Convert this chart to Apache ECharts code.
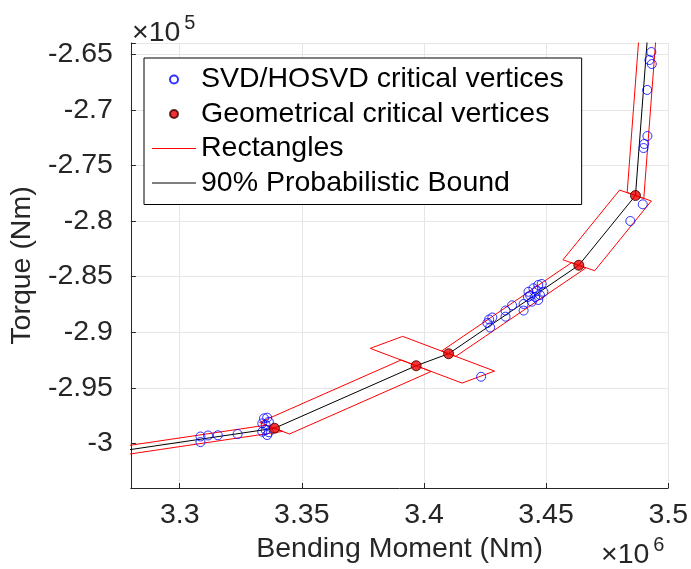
<!DOCTYPE html>
<html>
<head>
<meta charset="utf-8">
<script src="https://cdn.jsdelivr.net/npm/echarts@6/dist/echarts.min.js"></script>
<style>
  html, body { margin: 0; padding: 0; background: #fff; }
  #chart { width: 691px; height: 569px; }
</style>
</head>
<body>
<div id="chart"></div>
<script>
// Bending moment in units of 1e6 Nm, torque in units of 1e5 Nm.

// Critical vertices found by the SVD/HOSVD search
const svdVertices = [
  [3.3085, -2.9937], [3.3085, -2.9987], [3.3116, -2.9928], [3.3156, -2.9926], [3.3237, -2.9915],
  [3.3345, -2.9774], [3.3358, -2.9768], [3.3365, -2.9804], [3.3338, -2.9819], [3.3352, -2.9834],
  [3.3338, -2.9894], [3.3352, -2.9879], [3.3365, -2.9899], [3.3358, -2.9924],
  [3.4234, -2.9400], [3.4267, -2.8885], [3.4260, -2.8917], [3.4271, -2.8957], [3.4280, -2.8867],
  [3.4334, -2.8805], [3.4334, -2.8860], [3.4361, -2.8758], [3.4408, -2.8746], [3.4408, -2.8805],
  [3.4428, -2.8636], [3.4435, -2.8670], [3.4448, -2.8605], [3.4462, -2.8625], [3.4468, -2.8575],
  [3.4482, -2.8566], [3.4489, -2.8636], [3.4455, -2.8683], [3.4468, -2.8710], [3.4442, -2.8725],
  [3.4475, -2.8665], [3.4426, -2.8683],
  [3.4845, -2.8000], [3.4896, -2.7850], [3.4899, -2.7344], [3.4902, -2.7308], [3.4915, -2.7236],
  [3.4914, -2.6822], [3.4923, -2.6553], [3.4933, -2.6589], [3.4931, -2.6481]
];

// Geometrical critical vertices
const geomVertices = [
  [3.3388, -2.9863], [3.3968, -2.9301], [3.4101, -2.9193], [3.4634, -2.8398], [3.4866, -2.7771]
];

// 90% probabilistic bound (continues past both ends of the axes)
const boundPath = [
  [3.2600, -3.0119], [3.3388, -2.9863], [3.3968, -2.9301], [3.4101, -2.9193],
  [3.4634, -2.8398], [3.4866, -2.7771], [3.4927, -2.6000]
];

// Rectangles around each segment of the bound (closed outlines)
const rectangles = [
  [[3.2566, -3.0091], [3.3354, -2.9835], [3.3422, -2.9891], [3.2634, -3.0147], [3.2566, -3.0091]],
  [[3.3327, -2.9811], [3.3907, -2.9249], [3.4029, -2.9353], [3.3449, -2.9915], [3.3327, -2.9811]],
  [[3.3780, -2.9145], [3.3913, -2.9037], [3.4289, -2.9349], [3.4156, -2.9457], [3.3780, -2.9145]],
  [[3.4072, -2.9169], [3.4605, -2.8374], [3.4663, -2.8422], [3.4130, -2.9217], [3.4072, -2.9169]],
  [[3.4569, -2.8349], [3.4801, -2.7722], [3.4931, -2.7820], [3.4699, -2.8447], [3.4569, -2.8349]],
  [[3.4832, -2.7743], [3.4893, -2.5972], [3.4961, -2.6028], [3.4900, -2.7799], [3.4832, -2.7743]]
];

// Axis limits and labelled ticks
const xRange = [3.28, 3.5];
const yRange = [-3.04, -2.64];
const xTicks = [3.3, 3.35, 3.4, 3.45, 3.5];
const yTicks = [-3, -2.95, -2.9, -2.85, -2.8, -2.75, -2.7, -2.65];

const FONT = '"Liberation Sans", Arial, Helvetica, sans-serif';
const FS = 28.5;
const AXIS_COLOR = '#262626';
const GRID_COLOR = '#e6e6e6';
// thin horizontal bar used as the legend sample for line series
const LINE_ICON = 'path://M0,0 L44,0 L44,1 L0,1 Z';

function tickFormatter(list) {
  return function (v) {
    for (const t of list) {
      if (Math.abs(t - v) < 1e-6) return String(t);
    }
    return '';
  };
}

const rectSeries = rectangles.map(function (r) {
  return {
    name: 'Rectangles',
    type: 'line',
    data: r,
    symbol: 'none',
    clip: true,
    z: 2,
    lineStyle: { color: '#ff0000', width: 1 },
    itemStyle: { color: '#ff0000' },
    emphasis: { disabled: true },
    silent: true
  };
});

const chart = echarts.init(document.getElementById('chart'), null, { renderer: 'canvas' });

chart.setOption({
  animation: false,
  backgroundColor: '#ffffff',
  grid: { left: 130, top: 43, width: 545, height: 445, containLabel: false },
  xAxis: {
    type: 'value',
    min: xRange[0],
    max: xRange[1],
    splitNumber: 4,
    name: 'Bending Moment (Nm)',
    nameLocation: 'middle',
    nameGap: 46,
    nameTextStyle: { fontFamily: FONT, fontSize: FS, color: AXIS_COLOR },
    axisLine: { show: true, onZero: false, lineStyle: { color: AXIS_COLOR, width: 1 } },
    axisTick: { show: true, inside: true, length: 5, lineStyle: { color: AXIS_COLOR } },
    axisLabel: {
      fontFamily: FONT, fontSize: FS, color: AXIS_COLOR, margin: 13,
      formatter: tickFormatter(xTicks)
    },
    splitLine: { show: true, lineStyle: { color: GRID_COLOR, width: 1 } }
  },
  yAxis: {
    type: 'value',
    min: yRange[0],
    max: yRange[1],
    splitNumber: 8,
    name: 'Torque (Nm)',
    nameLocation: 'middle',
    nameGap: 88,
    nameTextStyle: { fontFamily: FONT, fontSize: FS, color: AXIS_COLOR },
    axisLine: { show: true, onZero: false, lineStyle: { color: AXIS_COLOR, width: 1 } },
    axisTick: { show: true, inside: true, length: 5, lineStyle: { color: AXIS_COLOR } },
    axisLabel: {
      fontFamily: FONT, fontSize: FS, color: AXIS_COLOR, margin: 18,
      formatter: tickFormatter(yTicks)
    },
    splitLine: { show: true, lineStyle: { color: GRID_COLOR, width: 1 } }
  },
  legend: {
    orient: 'vertical',
    left: 144,
    top: 58,
    padding: [7, 18, 7, 8],
    itemGap: 5.5,
    itemWidth: 44,
    itemHeight: 8,
    backgroundColor: '#ffffff',
    borderColor: '#000000',
    borderWidth: 1,
    selectedMode: false,
    textStyle: { fontFamily: FONT, fontSize: FS, color: '#000000' },
    data: [
      { name: 'SVD/HOSVD critical vertices' },
      { name: 'Geometrical critical vertices' },
      { name: 'Rectangles', icon: LINE_ICON },
      { name: '90% Probabilistic Bound', icon: LINE_ICON }
    ]
  },
  graphic: [
    {
      type: 'text', left: 132, top: 13,
      style: {
        text: '{b|×10}{s|5}',
        rich: {
          b: { fontFamily: FONT, fontSize: FS, fill: AXIS_COLOR, verticalAlign: 'bottom' },
          s: { fontFamily: FONT, fontSize: 20, fill: AXIS_COLOR, padding: [0, 0, 15, 4] }
        }
      }
    },
    {
      type: 'text', left: 601, top: 535,
      style: {
        text: '{b|×10}{s|6}',
        rich: {
          b: { fontFamily: FONT, fontSize: FS, fill: AXIS_COLOR, verticalAlign: 'bottom' },
          s: { fontFamily: FONT, fontSize: 20, fill: AXIS_COLOR, padding: [0, 0, 15, 4] }
        }
      }
    }
  ],
  series: [
    {
      name: 'SVD/HOSVD critical vertices',
      type: 'scatter',
      data: svdVertices,
      symbol: 'circle',
      symbolSize: 9,
      z: 4,
      itemStyle: { color: 'rgba(255,255,255,0)', borderColor: '#0000ff', borderWidth: 1 },
      emphasis: { disabled: true },
      silent: true
    },
    {
      name: 'Geometrical critical vertices',
      type: 'scatter',
      data: geomVertices,
      symbol: 'circle',
      symbolSize: 10,
      z: 5,
      itemStyle: { color: '#ee0000', borderColor: '#3a0000', borderWidth: 1 },
      emphasis: { disabled: true },
      silent: true
    }
  ].concat(rectSeries).concat([
    {
      name: '90% Probabilistic Bound',
      type: 'line',
      data: boundPath,
      symbol: 'none',
      clip: true,
      z: 3,
      lineStyle: { color: '#000000', width: 1 },
      itemStyle: { color: '#000000' },
      emphasis: { disabled: true },
      silent: true
    }
  ])
});
</script>
</body>
</html>
